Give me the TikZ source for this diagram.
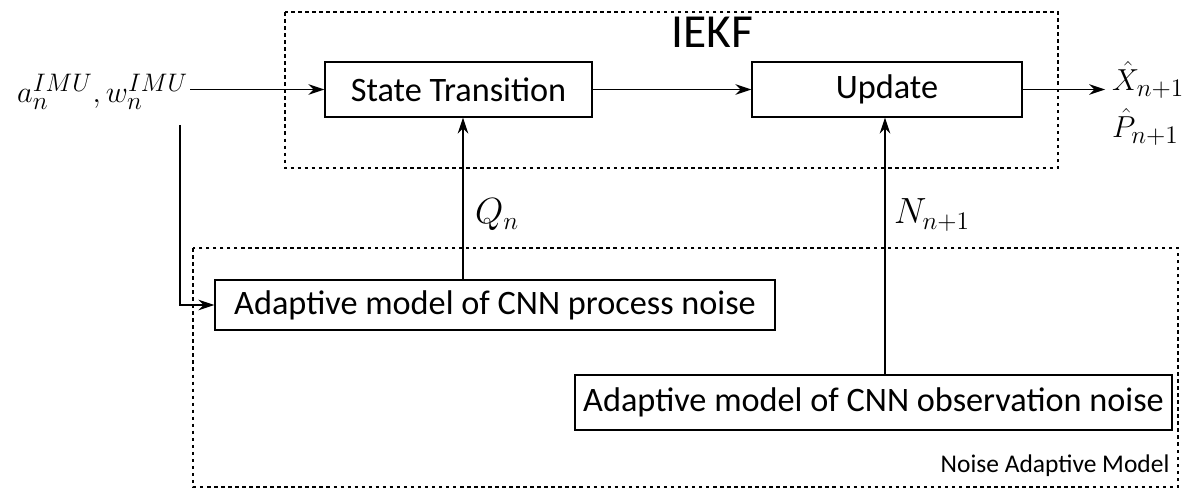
\documentclass[tikz,border=0pt]{standalone}
\usepackage{fontspec}
\setmainfont{Carlito}
\usetikzlibrary{arrows.meta}
\begin{document}
\begin{tikzpicture}[x=0.02cm,y=-0.02cm,
  blk/.style={draw,thick,inner sep=0pt,font=\fontsize{19.5}{22}\selectfont},
  grp/.style={draw,thick,dash pattern=on 2pt off 2pt},
  arr/.style={-{Stealth[length=9pt,width=6pt]},thick},
  mth/.style={font=\fontsize{19}{22}\selectfont,inner sep=1pt}]
\useasboundingbox (0,0) rectangle (1200,500);
\draw[grp] (285,12) rectangle (1058,168);
\node[font=\fontsize{27}{30}\selectfont] (iekf) at (712,32) {IEKF};
\draw[grp] (193,248) rectangle (1178,487);
\node[font=\fontsize{14.5}{16}\selectfont] (nam) at (1055,466) {Noise Adaptive Model};
\node[blk,minimum width=267*0.02cm,minimum height=55*0.02cm] (st) at (458.5,89.5) {State Transition};
\node[blk,minimum width=270*0.02cm,minimum height=55*0.02cm] (up) at (887,89.5) {Update};
\node[blk,minimum width=560*0.02cm,minimum height=50*0.02cm] (pn) at (495,305) {Adaptive model of CNN process noise};
\node[blk,minimum width=597*0.02cm,minimum height=55*0.02cm] (on) at (873.5,402.5) {Adaptive model of CNN observation noise};
\node[mth,anchor=east] (in) at (190,92) {$a_n^{IMU},w_n^{IMU}$};
\node[mth,anchor=west] (ox) at (1110,80) {$\hat X_{n+1}$};
\node[mth,anchor=west] (op) at (1110,127) {$\hat P_{n+1}$};
\coordinate (tap) at (180,125);
\draw[arr] (190,89.5) -- (st.west);
\draw[arr] (st) -- (up);
\draw[arr] (up.east) -- (1105,89.5);
\draw[arr] (tap) |- (pn.west);
\draw[arr] (pn.north -| 463,0) -- (st.south -| 463,0);
\draw[arr] (on.north -| 885,0) -- (up.south -| 885,0);
\node[mth,font=\fontsize{22}{24}\selectfont] (q) at (497,215) {$Q_n$};
\node[mth,font=\fontsize{22}{24}\selectfont] (nn) at (932,215) {$N_{n+1}$};
\end{tikzpicture}
\end{document}
